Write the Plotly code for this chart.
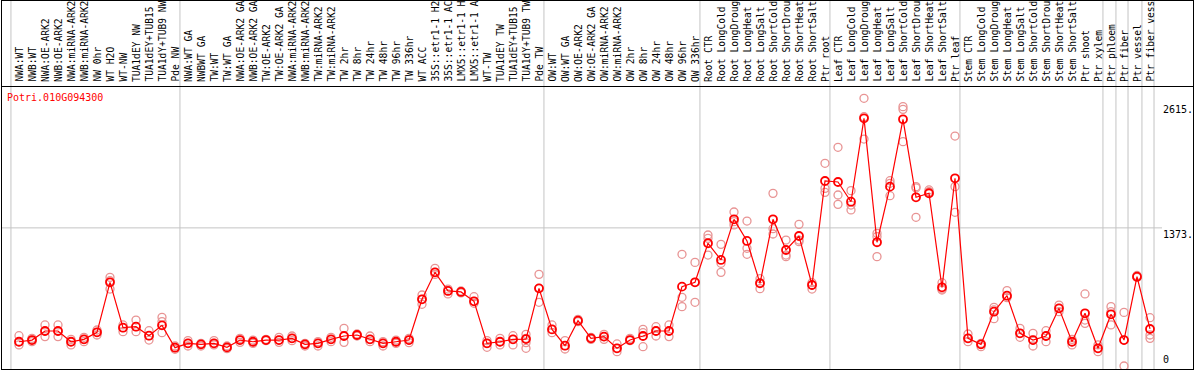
import plotly.graph_objects as go

gene = "Potri.010G094300"

categories = [
    "NWA:WT", "NWB:WT", "NWA:OE-ARK2", "NWB:OE-ARK2", "NWA:miRNA-ARK2", "NWB:miRNA-ARK2",
    "NW 0hr", "WT H2O", "WT-NW", "TUA1dEY NW", "TUA1dEY+TUB15", "TUA1dY+TUB9 NW", "Pde NW",
    "NWA:WT GA", "NWBWT GA", "TW:WT", "TW:WT GA", "NWA:OE-ARK2 GA", "NWB:OE-ARK2 GA",
    "TW:OE-ARK2", "TW:OE-ARK2 GA", "NWA:miRNA-ARK2", "NWB:miRNA-ARK2", "TW:miRNA-ARK2",
    "TW:miRNA-ARK2", "TW 2hr", "TW 8hr", "TW 24hr", "TW 48hr", "TW 96hr", "TW 336hr",
    "WT ACC", "35S::etr1-1 H2", "35S::etr1-1 AC", "LMX5::etr1-1 H", "LMX5::etr1-1 A",
    "WT-TW", "TUA1dEY TW", "TUA1dEY+TUB15", "TUA1dY+TUB9 TW", "Pde TW",
    "OW:WT", "OW:WT GA", "OW:OE-ARK2", "OW:OE-ARK2 GA", "OW:miRNA-ARK2", "OW:miRNA-ARK2",
    "OW 2hr", "OW 8hr", "OW 24hr", "OW 48hr", "OW 96hr", "OW 336hr",
    "Root CTR", "Root LongCold", "Root LongDroug", "Root LongHeat", "Root LongSalt",
    "Root ShortCold", "Root ShortDrou", "Root ShortHeat", "Root ShortSalt", "Ptr root",
    "Leaf CTR", "Leaf LongCold", "Leaf LongDroug", "Leaf LongHeat", "Leaf LongSalt",
    "Leaf ShortCold", "Leaf ShortDrou", "Leaf ShortHeat", "Leaf ShortSalt", "Ptr leaf",
    "Stem CTR", "Stem LongCold", "Stem LongDroug", "Stem LongHeat", "Stem LongSalt",
    "Stem ShortCold", "Stem ShortDrou", "Stem ShortHeat", "Stem ShortSalt", "Ptr shoot",
    "Ptr xylem", "Ptr phloem", "Ptr fiber", "Ptr vessel", "Ptr fiber vess",
]

means = [
    241, 258, 348, 348, 241, 265, 335, 832, 381, 391, 301, 404, 182,
    225, 215, 225, 185, 258, 241, 258, 258, 275, 215, 225, 265, 298, 308, 265, 225, 241, 258,
    663, 931, 746, 736, 643, 225, 241, 265, 268, 772,
    364, 202, 451, 275, 292, 176, 258, 298, 348, 348, 789, 832,
    1220, 1054, 1458, 1243, 822, 1458, 1153, 1292, 805, 1839,
    1829, 1633, 2462, 1230, 1783, 2452, 1677, 1717, 782, 1866,
    275, 215, 540, 699, 325, 258, 298, 573, 241, 524, 176, 514, 258, 888, 368,
]

replicates = [
    [301, 209, 242], [275, 242, 258], [408, 292, 345], [408, 292, 345], [242, 265, 209],
    [285, 242, 265], [358, 308, 335], [881, 765, 848], [408, 341, 381], [457, 341, 391],
    [351, 258, 301], [484, 441, 331], [199, 166, 182],
    [252, 199, 225], [225, 199, 215], [252, 209, 225], [199, 172, 185], [275, 235, 258],
    [258, 225, 241], [265, 252, 258], [285, 235, 258], [298, 252, 275], [225, 199, 215],
    [242, 199, 225], [285, 242, 265], [374, 235, 298], [318, 298, 308], [298, 242, 265],
    [242, 199, 225], [258, 225, 241], [275, 232, 258],
    [706, 613, 663], [971, 911, 931], [765, 716, 746], [746, 726, 736], [689, 623, 643],
    [252, 186, 225], [275, 209, 241], [301, 209, 265], [315, 232, 176, 275], [911, 633, 772],
    [408, 331, 364], [252, 169, 202], [464, 441, 451], [285, 265, 275], [315, 265, 292],
    [219, 142, 176], [275, 252, 258], [364, 192, 331], [391, 298, 348], [408, 292, 348],
    [1110, 683, 590], [1030, 633, 832],
    [1302, 1269, 1103], [1209, 1021, 931], [1531, 1435, 1402], [1441, 1170, 1110],
    [868, 828, 769], [1716, 1365, 1312], [1252, 1087, 1103], [1408, 1236, 1252],
    [828, 765, 805], [2015, 1766, 1726],
    [2174, 1700, 1607], [1743, 1600, 1551], [2661, 2478, 2256], [1319, 1286, 1087],
    [1842, 1816, 1693], [2578, 2551, 2230], [1783, 1770, 1478], [1750, 1733, 1717],
    [828, 755, 765], [2286, 1783, 1528],
    [318, 242, 275], [192, 215, 225], [583, 470, 557], [749, 699, 680], [374, 285, 325],
    [325, 199, 258], [351, 242, 298], [606, 540, 573], [265, 209, 241], [716, 424, 457],
    [209, 142, 176], [590, 408, 540], [533, 0, 258], [900, 880, 888], [480, 308, 275],
]

# group separators (in category units, between columns)
separators = [-0.62, 12.38, 40.38, 52.38, 62.38, 72.38, 83.38, 84.38, 85.31, 86.38, 87.31]
ytick_vals = [2615, 1373, 0]
ytick_text = ["2615.", "1373.", "0"]
grid_y = 1373

FONT = "DejaVu Sans Mono"
W, H = 1194, 370
L, R, T, B = 1, 1160, 86, 369  # plot area in pixels
PW, PH = R - L, B - T


def px_to_paper_x(p):
    return (p - L) / PW


def px_to_paper_y(q):
    return (B - q) / PH


x_idx = list(range(len(categories)))
rep_x, rep_y = [], []
for i, vals in enumerate(replicates):
    for v in vals:
        rep_x.append(i)
        rep_y.append(v)

fig = go.Figure()
fig.add_trace(go.Scatter(
    x=rep_x, y=rep_y, mode="markers",
    marker=dict(symbol="circle-open", size=8, color="#E89494", line=dict(width=1.3, color="#E89494")),
    hoverinfo="skip", showlegend=False, cliponaxis=False,
))
fig.add_trace(go.Scatter(
    x=x_idx, y=means, mode="lines+markers",
    line=dict(color="#FF0000", width=1.2),
    marker=dict(symbol="circle-open", size=8, color="#FF0000", line=dict(width=1.8, color="#FF0000")),
    showlegend=False, cliponaxis=False,
))

x_per_px = 1 / 13.0
x0 = (L - 19) * x_per_px
x1 = (R - 19) * x_per_px
ypp = 0.1006  # pixels per unit
y0 = -(B - 366) / ypp
y1 = (366 - T) / ypp

shapes = []
top_paper = px_to_paper_y(0)
for s in separators:
    shapes.append(dict(type="line", xref="x", yref="paper", x0=s, x1=s, y0=0, y1=top_paper,
                       line=dict(color="#C4C4C4", width=1), layer="below"))
shapes.append(dict(type="line", xref="paper", yref="y", x0=0, x1=px_to_paper_x(1162), y0=grid_y, y1=grid_y,
                   line=dict(color="#C4C4C4", width=1), layer="below"))
# borders
bl = dict(color="black", width=1)
shapes += [
    dict(type="line", xref="paper", yref="paper", x0=px_to_paper_x(1.5), x1=px_to_paper_x(1.5),
         y0=px_to_paper_y(369.5), y1=px_to_paper_y(0.5), line=bl),
    dict(type="line", xref="paper", yref="paper", x0=px_to_paper_x(1193.5), x1=px_to_paper_x(1193.5),
         y0=px_to_paper_y(369.5), y1=px_to_paper_y(0.5), line=bl),
    dict(type="line", xref="paper", yref="paper", x0=px_to_paper_x(1), x1=px_to_paper_x(1194),
         y0=px_to_paper_y(0.5), y1=px_to_paper_y(0.5), line=bl),
    dict(type="line", xref="paper", yref="paper", x0=px_to_paper_x(1), x1=px_to_paper_x(1194),
         y0=px_to_paper_y(86.5), y1=px_to_paper_y(86.5), line=bl),
    dict(type="line", xref="paper", yref="paper", x0=px_to_paper_x(1), x1=px_to_paper_x(1194),
         y0=px_to_paper_y(369.5), y1=px_to_paper_y(369.5), line=bl),
]

annotations = []
for i, c in enumerate(categories):
    annotations.append(dict(
        x=i, xref="x", y=1, yref="paper", yanchor="bottom", xanchor="center",
        yshift=3, text=c, textangle=-90, showarrow=False,
        font=dict(family=FONT, size=9.6, color="black"), borderpad=0,
    ))
annotations.append(dict(
    x=px_to_paper_x(6), xref="paper", y=px_to_paper_y(91), yref="paper",
    xanchor="left", yanchor="top", text=gene, showarrow=False,
    font=dict(family=FONT, size=10, color="#FF0000"), borderpad=0,
))
for v, t in zip(ytick_vals, ytick_text):
    annotations.append(dict(
        x=px_to_paper_x(1162), xref="paper", y=v, yref="y",
        xanchor="left", yanchor="bottom" if v == 0 else "top", text=t, showarrow=False,
        font=dict(family=FONT, size=10, color="black"), borderpad=0,
    ))

fig.update_layout(
    width=W, height=H,
    margin=dict(l=L, r=W - R, t=T, b=H - B, pad=0),
    paper_bgcolor="white", plot_bgcolor="white",
    xaxis=dict(range=[x0, x1], visible=False, fixedrange=True),
    yaxis=dict(range=[y0, y1], visible=False, fixedrange=True),
    shapes=shapes, annotations=annotations,
    showlegend=False,
)

fig.write_html(
    "out.html",
    config={"displayModeBar": False},
    post_script="document.body.style.margin='0px';document.body.style.padding='0px';document.body.style.overflow='hidden';",
)
